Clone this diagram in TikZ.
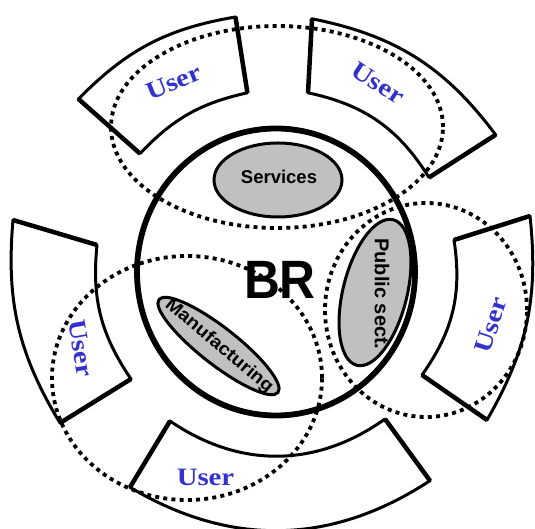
\documentclass[tikz,border=0pt]{standalone}
\usepackage{fontspec}
\setmainfont{Liberation Serif}
\newfontfamily\sectorfont{Liberation Sans}
\usetikzlibrary{calc}
\definecolor{userblue}{RGB}{51,51,204}
\definecolor{blobgray}{RGB}{192,192,192}
\begin{document}
\begin{tikzpicture}[x=1pt,y=1pt,
  segline/.style={line width=3pt, line join=round},
  segedge/.style={line width=4.5pt},
  dotline/.style={line width=3.8pt, dash pattern=on 4pt off 4.2pt},
  blob/.style={draw, line width=3pt, fill=blobgray},
  usertext/.style={text=userblue, font=\fontsize{25}{25}\selectfont\bfseries, inner sep=0pt},
  sectortext/.style={font=\sectorfont\bfseries\fontsize{18}{18}\selectfont, inner sep=0pt}]
\fill[white] (0,0) rectangle (535,529);
\useasboundingbox (0,0) rectangle (535,529);

% ---- user segments (corners) ----
\coordinate (tlA) at (78.5,430);  \coordinate (tlB) at (235.5,512);
\coordinate (tlD) at (247.4,436.2); \coordinate (tlE) at (140,375.4);
\coordinate (trA) at (312,510.2); \coordinate (trB) at (495.6,394.2);
\coordinate (trD) at (429,351.5); \coordinate (trE) at (308,436.2);
\coordinate (rtA) at (530,313);   \coordinate (rtB) at (487,109);
\coordinate (rtD) at (422,154);   \coordinate (rtE) at (454,289);
\coordinate (btA) at (430,48.3);  \coordinate (btB) at (130,41.7);
\coordinate (btD) at (170,108);   \coordinate (btE) at (385,110);
\coordinate (lfA) at (60,106);    \coordinate (lfB) at (13,309);
\coordinate (lfD) at (97,284);    \coordinate (lfE) at (131,150);

\draw[segline] (tlA) to[bend left=18] (tlB) -- (tlD) to[bend right=17] (tlE) -- cycle;
\draw[segedge] (tlB) -- (tlD) (tlE) -- (tlA);
\draw[segline] (trA) to[bend left=21] (trB) -- (trD) to[bend right=23] (trE) -- cycle;
\draw[segedge] (trB) -- (trD) (trE) -- (trA);
\draw[segline] (rtA) to[bend left=18] (rtB) -- (rtD) to[bend right=22] (rtE) -- cycle;
\draw[segedge] (rtB) -- (rtD) (rtE) -- (rtA);
\draw[segline] (btA) to[bend left=32] (btB) -- (btD) to[bend right=35] (btE) -- cycle;
\draw[segedge] (btB) -- (btD) (btE) -- (btA);
\draw[segline] (lfA) to[bend left=18] (lfB) -- (lfD) to[bend right=20] (lfE) -- cycle;
\draw[segedge] (lfB) -- (lfD) (lfE) -- (lfA);

% ---- central circle ----
\draw[line width=5.8pt] (276,257) ellipse[x radius=139, y radius=143.5];

% ---- dotted groupings ----
\draw[dotline] (277,402) ellipse[x radius=166, y radius=101];
\draw[dotline] (426,219) ellipse[x radius=101, y radius=107];
\draw[dotline] (187,151) ellipse[x radius=135, y radius=122];

% ---- sector blobs ----
\draw[blob] (278,349) ellipse[x radius=64, y radius=37];
\draw[blob, rotate around={76:(375,236.5)}] (375,236.5) ellipse[x radius=75, y radius=32];
\draw[blob, rotate around={-38:(218.5,183)}] (218.5,183) ellipse[x radius=75.5, y radius=18.5];

% ---- texts ----
\node[sectortext, font=\sectorfont\bfseries\fontsize{18.5}{18.5}\selectfont] (services) at (279,352) {Services};
\node[sectortext, font=\sectorfont\bfseries\fontsize{20}{20}\selectfont, rotate=-90] (public) at (382,235) {Public sect.};
\node[sectortext, rotate=-40] (manuf) at (219,183) {\scalebox{1.09}[1]{Manufacturing}};
\node[font=\sectorfont\bfseries\fontsize{54}{54}\selectfont, inner sep=0pt] (br) at (280,249.5) {\scalebox{0.92}[1]{BR}};

\node[usertext, rotate=22]  (user1) at (174,446.5) {\scalebox{1.15}[1]{User}};
\node[usertext, rotate=-33] (user2) at (378,446)   {\scalebox{1.15}[1]{User}};
\node[usertext, rotate=72]  (user3) at (491,204)   {\scalebox{1.15}[1]{User}};
\node[usertext]             (user4) at (205.5,51.5){\scalebox{1.15}[1]{User}};
\node[usertext, rotate=-80] (user5) at (81,181)    {\scalebox{1.15}[1]{User}};
\end{tikzpicture}
\end{document}
